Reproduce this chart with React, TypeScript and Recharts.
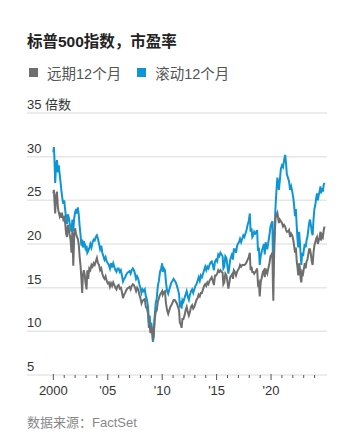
import React from "react";
import { LineChart, Line, XAxis, YAxis, CartesianGrid } from "recharts";

// Time in fractional years
const times = [
  2000.0, 2000.05, 2000.1, 2000.17, 2000.25, 2000.33, 2000.42, 2000.5, 2000.58, 2000.67, 2000.75, 2000.83, 2000.92,
  2001.0, 2001.08, 2001.17, 2001.25, 2001.33, 2001.42, 2001.5, 2001.58, 2001.67, 2001.7, 2001.75, 2001.83, 2001.92,
  2002.0, 2002.08, 2002.17, 2002.25, 2002.33, 2002.42, 2002.5, 2002.58, 2002.65, 2002.72, 2002.8, 2002.88, 2002.95,
  2003.05, 2003.12, 2003.2, 2003.3, 2003.4, 2003.5, 2003.6, 2003.7, 2003.8, 2003.9,
  2004.0, 2004.1, 2004.2, 2004.3, 2004.4, 2004.5, 2004.6, 2004.7, 2004.8, 2004.9,
  2005.0, 2005.1, 2005.2, 2005.3, 2005.4, 2005.5, 2005.6, 2005.7, 2005.8, 2005.9,
  2006.0, 2006.1, 2006.2, 2006.3, 2006.4, 2006.5, 2006.6, 2006.7, 2006.8, 2006.9,
  2007.0, 2007.1, 2007.2, 2007.3, 2007.4, 2007.5, 2007.6, 2007.7, 2007.8, 2007.9,
  2008.0, 2008.1, 2008.2, 2008.3, 2008.4, 2008.5, 2008.6, 2008.7, 2008.78, 2008.85, 2008.92,
  2009.0, 2009.08, 2009.15, 2009.22, 2009.3, 2009.4, 2009.5, 2009.6, 2009.7, 2009.8, 2009.9,
  2010.0, 2010.05, 2010.15, 2010.25, 2010.35, 2010.45, 2010.55, 2010.65, 2010.75, 2010.85, 2010.95,
  2011.05, 2011.15, 2011.25, 2011.35, 2011.45, 2011.55, 2011.62, 2011.7, 2011.78, 2011.86, 2011.95,
  2012.05, 2012.15, 2012.25, 2012.35, 2012.45, 2012.55, 2012.65, 2012.75, 2012.85, 2012.95,
  2013.05, 2013.15, 2013.25, 2013.35, 2013.45, 2013.55, 2013.65, 2013.75, 2013.85, 2013.95,
  2014.05, 2014.15, 2014.25, 2014.35, 2014.45, 2014.55, 2014.65, 2014.75, 2014.85, 2014.95,
  2015.05, 2015.15, 2015.25, 2015.35, 2015.45, 2015.55, 2015.62, 2015.7, 2015.8, 2015.9,
  2016.0, 2016.08, 2016.15, 2016.25, 2016.35, 2016.45, 2016.5, 2016.58, 2016.68, 2016.78, 2016.88, 2016.95,
  2017.05, 2017.15, 2017.25, 2017.35, 2017.45, 2017.55, 2017.65, 2017.75, 2017.85, 2017.95,
  2018.05, 2018.12, 2018.2, 2018.28, 2018.36, 2018.45, 2018.55, 2018.65, 2018.72, 2018.8, 2018.88, 2018.96,
  2019.05, 2019.15, 2019.25, 2019.35, 2019.42, 2019.5, 2019.58, 2019.65, 2019.75, 2019.85, 2019.95,
  2020.05, 2020.12, 2020.17, 2020.21, 2020.25, 2020.3, 2020.35, 2020.42, 2020.5, 2020.58, 2020.65, 2020.72, 2020.8, 2020.9,
  2021.0, 2021.1, 2021.2, 2021.3, 2021.38, 2021.45, 2021.55, 2021.65, 2021.75, 2021.85, 2021.95,
  2022.05, 2022.12, 2022.2, 2022.28, 2022.36, 2022.44, 2022.5, 2022.58, 2022.65, 2022.72, 2022.78, 2022.86, 2022.94,
  2023.02, 2023.1, 2023.18, 2023.26, 2023.34, 2023.42, 2023.5, 2023.58, 2023.66, 2023.74, 2023.82, 2023.9, 2023.98,
  2024.06, 2024.14, 2024.22, 2024.3, 2024.38, 2024.46, 2024.54, 2024.6, 2024.68, 2024.76, 2024.84, 2024.92,
];

// Trailing 12-month P/E (blue)
const trailingPE = [
  30.5, 31.1, 29.8, 27.0, 29.0, 29.6, 28.2, 29.0, 28.0, 27.0, 26.0, 25.2, 24.6,
  25.0, 24.0, 23.0, 22.3, 23.4, 23.0, 22.4, 21.8, 21.4, 22.0, 22.8, 21.5, 23.0,
  23.6, 24.0, 23.5, 24.2, 23.4, 22.0, 21.0, 19.8, 20.5, 19.6, 20.3, 20.0, 19.5,
  19.8, 19.0, 19.2, 19.5, 20.0, 19.6, 20.2, 20.5, 20.4, 20.8,
  21.0, 20.6, 20.0, 19.4, 19.8, 19.0, 18.6, 18.2, 18.5, 18.0,
  17.8, 17.6, 17.2, 17.8, 17.3, 17.8, 17.4, 17.0, 16.8, 17.2,
  17.2, 16.8, 17.0, 16.4, 15.7, 16.0, 16.2, 16.5, 16.7, 16.8,
  16.9, 16.6, 17.0, 17.2, 17.0, 16.6, 16.0, 16.3, 16.0, 15.4,
  15.0, 14.4, 14.8, 14.6, 14.8, 14.0, 13.6, 12.8, 11.0, 11.8, 10.2,
  11.0, 10.0, 8.8, 9.5, 11.5, 13.2, 13.8, 15.2, 15.8, 16.8, 17.2,
  17.8, 16.8, 17.2, 17.0, 15.6, 14.6, 14.3, 14.8, 15.2, 15.6, 15.8,
  16.0, 15.8, 15.6, 15.2, 14.8, 14.2, 13.0, 13.2, 12.6, 13.6, 13.4,
  13.8, 14.2, 14.6, 14.0, 13.6, 14.2, 14.6, 14.8, 14.4, 14.8,
  15.2, 15.4, 15.8, 16.2, 15.8, 16.4, 16.2, 16.6, 17.0, 17.4,
  17.0, 17.4, 17.2, 17.6, 17.9, 18.0, 17.6, 17.0, 18.0, 18.2,
  18.0, 18.8, 18.6, 19.0, 18.8, 18.6, 17.2, 17.4, 18.6, 18.4,
  17.4, 16.6, 17.2, 18.2, 18.6, 19.0, 18.2, 19.4, 19.4, 19.0, 19.8, 20.0,
  20.2, 20.6, 20.2, 20.6, 21.0, 20.8, 21.2, 21.6, 22.2, 22.6,
  23.5, 21.4, 21.8, 20.8, 21.0, 21.4, 21.2, 21.4, 21.6, 19.2, 19.6, 17.6,
  18.6, 19.2, 19.6, 20.0, 18.8, 20.2, 19.8, 19.4, 20.2, 21.0, 22.0,
  22.4, 22.6, 18.5, 16.2, 19.5, 20.5, 22.5, 24.5, 26.2, 27.6, 27.0, 26.2, 27.2, 28.6,
  29.0, 28.8, 29.6, 30.2, 29.2, 28.0, 27.6, 27.2, 26.2, 26.6, 26.0,
  25.2, 24.4, 23.2, 24.0, 22.0, 20.4, 19.6, 21.4, 20.2, 18.8, 17.6, 19.0, 18.6,
  19.4, 20.0, 19.6, 20.4, 20.8, 21.6, 22.4, 22.8, 22.2, 21.4, 21.0, 22.8, 24.0,
  24.4, 25.2, 25.8, 25.0, 25.6, 26.0, 26.6, 25.8, 26.4, 26.0, 26.8, 27.0,
];

// Forward 12-month P/E (gray)
const forwardPE = [
  25.8, 26.2, 25.0, 23.5, 25.5, 26.0, 24.2, 23.6, 23.2, 23.6, 23.0, 23.3, 22.8,
  23.0, 22.5, 21.2, 20.8, 22.2, 21.8, 21.0, 20.5, 19.0, 20.5, 21.5, 17.5, 21.0,
  21.8, 21.2, 20.8, 20.6, 20.0, 18.5, 17.5, 16.0, 14.4, 16.5, 17.0, 16.5, 15.6,
  14.8, 17.0, 16.0, 17.2, 17.0, 17.6, 17.4, 17.8, 17.6, 18.0,
  18.4, 17.8, 17.6, 17.0, 17.2, 16.6, 16.2, 16.0, 16.3, 15.8,
  15.5, 15.6, 15.1, 15.5, 15.2, 15.6, 15.3, 15.0, 14.8, 15.2,
  15.3, 14.9, 15.0, 14.5, 13.8, 14.2, 14.4, 14.7, 14.9, 15.0,
  15.1, 14.8, 15.2, 15.4, 15.3, 15.0, 14.6, 15.0, 14.8, 14.2,
  13.8, 13.2, 13.5, 13.6, 13.7, 12.8, 12.6, 12.0, 10.4, 10.8, 9.8,
  10.6, 10.0, 9.0, 9.6, 11.2, 12.2, 12.4, 13.4, 13.8, 14.2, 14.4,
  14.6, 14.2, 14.5, 14.6, 13.2, 12.4, 12.0, 12.4, 12.8, 13.0, 13.3,
  13.6, 13.6, 13.4, 13.2, 12.8, 12.4, 11.0, 10.8, 10.4, 11.4, 11.4,
  11.8, 12.4, 12.8, 12.2, 11.8, 12.2, 12.8, 13.0, 12.6, 12.8,
  13.2, 13.6, 13.8, 14.2, 14.0, 14.4, 14.4, 14.8, 15.2, 15.4,
  15.2, 15.6, 15.4, 15.8, 16.0, 16.2, 15.8, 15.3, 16.4, 16.4,
  16.6, 17.0, 16.8, 17.0, 16.8, 16.7, 15.4, 15.6, 16.6, 16.4,
  15.6, 14.9, 15.4, 16.2, 16.4, 16.6, 16.0, 17.0, 16.8, 16.4, 16.8, 17.0,
  17.2, 17.6, 17.4, 17.6, 17.6, 17.6, 17.7, 17.9, 18.2, 18.5,
  19.0, 17.0, 17.4, 16.8, 16.8, 16.6, 16.8, 17.0, 17.2, 15.4, 15.6, 14.0,
  15.6, 16.2, 16.8, 17.0, 16.2, 17.2, 16.8, 16.6, 17.2, 17.8, 18.6,
  18.8, 19.0, 15.5, 13.5, 17.0, 19.5, 21.5, 23.0, 23.4, 23.6, 23.0, 22.4, 22.8, 22.6,
  22.4, 22.0, 22.2, 22.0, 21.6, 21.4, 21.4, 21.6, 20.8, 21.2, 21.0,
  20.4, 19.8, 19.0, 19.6, 18.0, 17.2, 16.4, 17.8, 17.2, 16.0, 15.6, 16.8, 16.6,
  17.2, 17.8, 17.2, 18.0, 18.2, 18.8, 19.4, 19.4, 18.8, 18.0, 17.6, 19.0, 19.8,
  20.2, 20.6, 20.8, 20.0, 20.4, 20.8, 21.4, 20.4, 21.0, 20.8, 21.6, 22.0,
];

const yTicks = [5, 10, 15, 20, 25, 30, 35];
const xTicks = [
  2000, 2001, 2002, 2003, 2004, 2005, 2006, 2007, 2008, 2009, 2010, 2011, 2012,
  2013, 2014, 2015, 2016, 2017, 2018, 2019, 2020, 2021, 2022, 2023, 2024,
];
const xTickLabels: Record<number, string> = { 2000: "2000", 2005: "'05", 2010: "'10", 2015: "'15", 2020: "'20" };
const yUnit = "倍数";

const title = "标普500指数，市盈率";
const seriesNames = ["远期12个月", "滚动12个月"];
const source = "数据来源：FactSet";

const GRAY = "#6e6e6e";
const BLUE = "#0e95d4";
const FONT = '"Liberation Sans", Arial, "Noto Sans CJK SC", sans-serif';

const data = times.map((t, i) => ({ t, fwd: forwardPE[i], trail: trailingPE[i] }));

const YTick = (props: any) => {
  const { y, payload } = props;
  const v = payload.value;
  return (
    <text x={27} y={y - 4} textAnchor="start" fontSize={13} fill="#333" fontFamily={FONT}>
      {v === 35 ? `${v} ${yUnit}` : v}
    </text>
  );
};

const XTick = (props: any) => {
  const { x, y, payload } = props;
  const label = xTickLabels[payload.value];
  const major = label !== undefined;
  return (
    <g>
      <line x1={x} x2={x} y1={major ? y - 1 : y} y2={major ? y + 5 : y + 3} stroke="#555" strokeWidth={1} />
      {major && (
        <text x={x} y={y + 20} textAnchor="middle" fontSize={13} fill="#333" fontFamily={FONT}>
          {label}
        </text>
      )}
    </g>
  );
};

export default function App() {
  return (
    <div
      style={{
        position: "absolute",
        left: 0,
        top: 0,
        width: 356,
        height: 441,
        background: "#fff",
        fontFamily: FONT,
        overflow: "hidden",
      }}
    >
      <div style={{ position: "absolute", left: 27, top: 29, fontSize: 15.5, fontWeight: 700, color: "#222", whiteSpace: "nowrap" }}>
        {title}
      </div>
      <div style={{ position: "absolute", left: 29, top: 62, display: "flex", alignItems: "center", fontSize: 14.5, color: "#555", whiteSpace: "nowrap" }}>
        <span style={{ display: "inline-block", width: 9, height: 9, background: GRAY, marginRight: 9 }} />
        <span style={{ marginRight: 16 }}>{seriesNames[0]}</span>
        <span style={{ display: "inline-block", width: 9, height: 9, background: BLUE, marginRight: 9 }} />
        <span>{seriesNames[1]}</span>
      </div>
      <div style={{ position: "absolute", left: 0, top: 0 }}>
        <LineChart width={356} height={441} data={data} margin={{ top: 113, right: 29, left: 0, bottom: 36 }}>
          <CartesianGrid horizontal vertical={false} stroke="#e6e6e6" strokeWidth={1.5} />
          <XAxis
            dataKey="t"
            type="number"
            domain={[1997.58, 2025.14]}
            ticks={xTicks}
            interval={0}
            allowDataOverflow
            axisLine={false}
            tickLine={false}
            tickSize={0}
            tickMargin={0}
            height={30}
            tick={<XTick />}
          />
          <YAxis
            type="number"
            domain={[5, 35]}
            ticks={yTicks}
            interval={0}
            width={27}
            axisLine={false}
            tickLine={false}
            tick={<YTick />}
          />
          <Line type="linear" dataKey="trail" stroke={BLUE} strokeWidth={2} dot={false} isAnimationActive={false} />
          <Line type="linear" dataKey="fwd" stroke={GRAY} strokeWidth={2} dot={false} isAnimationActive={false} />
        </LineChart>
      </div>
      <div style={{ position: "absolute", left: 27, top: 412, fontSize: 13, color: "#888", whiteSpace: "nowrap" }}>
        {source}
      </div>
    </div>
  );
}
